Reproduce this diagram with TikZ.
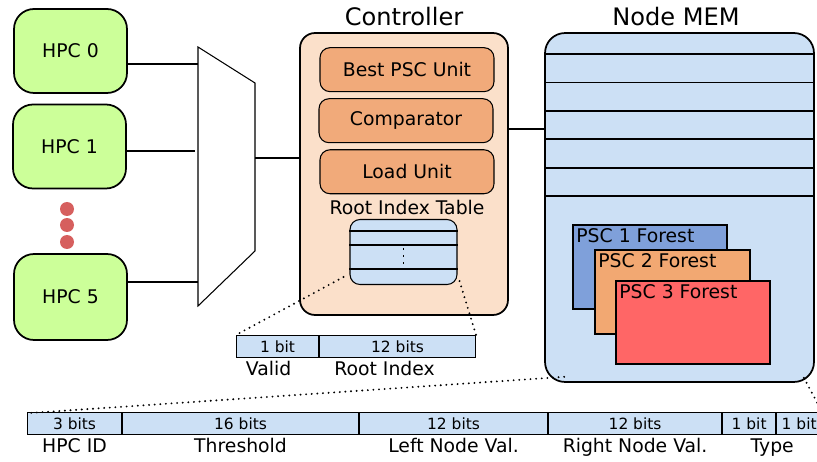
\documentclass[tikz,border=0pt]{standalone}
\usepackage{fontspec}
\setmainfont{DejaVu Sans}
\usetikzlibrary{positioning,calc}

\definecolor{hpcgreen}{RGB}{204,255,153}
\definecolor{dotred}{RGB}{214,95,94}
\definecolor{ctrlpeach}{RGB}{251,224,202}
\definecolor{unitorange}{RGB}{241,170,122}
\definecolor{fieldblue}{RGB}{204,224,245}
\definecolor{pscblue}{RGB}{127,160,218}
\definecolor{pscorange}{RGB}{242,168,114}
\definecolor{pscred}{RGB}{255,102,102}

\newcommand{\lbl}{\fontsize{10.7}{12}\selectfont}
\newcommand{\ttl}{\fontsize{13.7}{16}\selectfont}
\newcommand{\bitsz}{\fontsize{8.8}{10}\selectfont}

\begin{document}
\begin{tikzpicture}[x=0.02cm, y=-0.02cm,
    line width=1pt,
    hpc/.style={draw, rounded corners=0.4cm, fill=hpcgreen, minimum width=2.26cm, minimum height=1.68cm, font=\lbl},
    unitbox/.style={draw, line width=0.6pt, rounded corners=0.2cm, fill=unitorange, minimum width=3.48cm, minimum height=0.88cm, font=\lbl},
    forestbox/.style={draw, anchor=north west, minimum width=3.08cm, minimum height=1.68cm},
    foresttxt/.style={anchor=north west, inner sep=2pt, font=\lbl},
    field/.style={draw, line width=0.6pt, fill=fieldblue, minimum height=0.44cm, inner sep=0pt, font=\bitsz},
    fieldlbl/.style={inner sep=1.5pt, font=\lbl},
    wire/.style={line width=0.6pt},
    dotline/.style={line width=1.2pt, dash pattern=on 0pt off 3.2pt, line cap=round}
]
    \useasboundingbox (0,0) rectangle (817,462);

    % HPCs
    \node[hpc] (hpc0) at (70.5,51) {HPC 0};
    \node[hpc] (hpc1) at (69.5,146.5) {HPC 1};
    \node[hpc, minimum height=1.72cm] (hpc5) at (70.5,297) {HPC 5};
    \foreach \y in {209,225,242}
        \fill[dotred] (67,\y) circle (7);

    % Mux
    \coordinate (muxTL) at (198,47);
    \coordinate (muxTR) at (255,83);
    \coordinate (muxBR) at (255,251);
    \coordinate (muxBL) at (198,306);
    \coordinate (muxout) at (255,158);
    \draw[line width=0.6pt] (muxTL) -- (muxTR) -- (muxBR) -- (muxBL) -- cycle;
    \coordinate (in0) at ($(hpc0.east)+(0,13)$);
    \coordinate (in1) at ($(hpc1.east)+(0,4.5)$);
    \coordinate (in5) at ($(hpc5.east)+(0,-15)$);
    \draw[wire] (in0) -- (in0 -| muxTL);
    \draw[wire] (in1) -- ($(in1)+(68,0)$);
    \draw[wire] (in5) -- (in5 -| muxTL);

    % Controller
    \node[draw, rounded corners=0.3cm, fill=ctrlpeach, minimum width=4.16cm, minimum height=5.64cm] (ctrl) at (404,174) {};
    \node[above=0pt of ctrl, font=\ttl] (ctrlttl) {Controller};
    \node[unitbox, below=0.3cm of ctrl.north, xshift=0.06cm] (best) {Best PSC Unit};
    \node[unitbox, below=0.12cm of best.south, anchor=north, xshift=-0.02cm] (cmp) {Comparator};
    \node[unitbox, below=0.12cm of cmp.south, anchor=north, xshift=0.02cm] (load) {Load Unit};
    \node[below=1pt of load, font=\lbl, inner sep=2pt] (rittl) {Root Index Table};
    \node[draw, line width=0.6pt, rounded corners=0.2cm, fill=fieldblue, minimum width=2.14cm, minimum height=1.3cm, anchor=north] (rit) at (403.5,219) {};
    \foreach \d in {12,26,50}
        \draw[line width=0.6pt] ($(rit.north west)+(0,\d)$) -- ($(rit.north east)+(0,\d)$);
    \draw[line width=0.5pt, dash pattern=on 1pt off 3pt] ($(rit.north)+(0,29)$) -- ($(rit.north)+(0,48)$);
    \draw[line width=1.2pt] (muxout) -- (muxout -| ctrl.west);

    % Node MEM
    \node[draw, rounded corners=0.4cm, fill=fieldblue, minimum width=5.38cm, minimum height=6.98cm] (mem) at (679.5,207.5) {};
    \node[above=0pt of mem, font=\ttl, xshift=-0.07cm] (memttl) {Node MEM};
    \foreach \i in {0,...,5}
        \draw ($(mem.north west)+(0,22+28.4*\i)$) -- ($(mem.north east)+(0,22+28.4*\i)$);
    \coordinate (bus) at (0,129);
    \draw[line width=0.8pt] (ctrl.east |- bus) -- (mem.west |- bus);

    % PSC forests
    \node[forestbox, fill=pscblue] (f1) at (572,224) {};
    \node[foresttxt] (f1t) at (f1.north west) {PSC 1 Forest};
    \node[forestbox, fill=pscorange, minimum width=3.1cm] (f2) at (594,249) {};
    \node[foresttxt] (f2t) at (f2.north west) {PSC 2 Forest};
    \node[forestbox, fill=pscred, minimum height=1.66cm] (f3) at (615,280) {};
    \node[foresttxt] (f3t) at (f3.north west) {PSC 3 Forest};

    % Root index entry
    \node[field, minimum width=1.64cm, anchor=north west] (valid) at (236,335) {1 bit};
    \node[field, minimum width=3.12cm, right=0pt of valid] (ridx) {12 bits};
    \node[fieldlbl, below=0pt of valid, xshift=-0.18cm] (validl) {Valid};
    \node[fieldlbl, below=0pt of ridx, xshift=-0.26cm] (ridxl) {Root Index};
    \draw[dotline] ($(rit.south west)+(-6,-8)$) -- (valid.north west);
    \draw[dotline] ($(rit.south east)+(2,-4)$) -- (ridx.north east);

    % Node entry
    \node[field, minimum width=1.88cm, anchor=north west] (hpcid) at (27,412) {3 bits};
    \node[field, minimum width=4.72cm, right=0pt of hpcid] (thr) {16 bits};
    \node[field, minimum width=3.76cm, right=0pt of thr] (lval) {12 bits};
    \node[field, minimum width=3.46cm, right=0pt of lval] (rval) {12 bits};
    \node[field, minimum width=1.06cm, right=0pt of rval] (type1) {1 bit};
    \node[field, minimum width=0.9cm, right=0pt of type1] (type2) {1 bit};
    \node[fieldlbl, below=0pt of hpcid] (hpcidl) {HPC ID};
    \node[fieldlbl, below=0pt of thr] (thrl) {Threshold};
    \node[fieldlbl, below=0pt of lval] (lvall) {Left Node Val.};
    \node[fieldlbl, below=0pt of rval] (rvall) {Right Node Val.};
    \node[fieldlbl, below=0pt of type1.south east, xshift=-0.08cm] (typel) {Type};
    \draw[dotline] ($(mem.south west)+(20,-6)$) -- ($(hpcid.north west)+(3,1)$);
    \draw[dotline] ($(mem.south east)+(-11,-5)$) -- (type2.north east);
\end{tikzpicture}
\end{document}
